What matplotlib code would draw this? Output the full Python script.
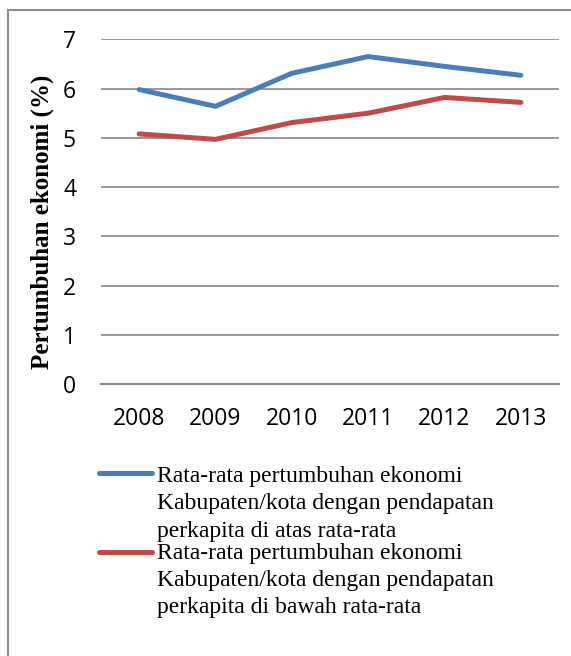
import matplotlib
matplotlib.use("Agg")
import matplotlib.pyplot as plt
from matplotlib.patches import Rectangle
from matplotlib.lines import Line2D

years = ["2008", "2009", "2010", "2011", "2012", "2013"]
above_avg = [5.98, 5.64, 6.31, 6.65, 6.45, 6.27]
below_avg = [5.08, 4.97, 5.31, 5.50, 5.82, 5.72]
yticks = [0, 1, 2, 3, 4, 5, 6, 7]
label_above = ["Rata-rata pertumbuhan ekonomi",
               "Kabupaten/kota dengan pendapatan",
               "perkapita di atas rata-rata"]
label_below = ["Rata-rata pertumbuhan ekonomi",
               "Kabupaten/kota dengan pendapatan",
               "perkapita di bawah rata-rata"]
ylabel = "Pertumbuhan ekonomi (%)"

W, H = 571, 656
fig = plt.figure(figsize=(W / 100, H / 100), dpi=100)

def fx(px):
    return px / W

def fy(py):
    return 1 - py / H

# outer border (extends beyond right/bottom of image)
fig.patches.append(Rectangle((fx(8), -0.1), 1.2, fy(10) + 0.1, transform=fig.transFigure,
                             fill=False, edgecolor="#8c8c8c", linewidth=1.5))

ax = fig.add_axes([fx(101), fy(384.3), (559 - 101) / W, (384.3 - 39.3) / H])
x = list(range(len(years)))
l1, = ax.plot(x, above_avg, color="#4a7ebb", linewidth=3.6, solid_capstyle="round", solid_joinstyle="round")
l2, = ax.plot(x, below_avg, color="#be4b48", linewidth=3.6, solid_capstyle="round", solid_joinstyle="round")
ax.set_xlim(-0.5, len(years) - 0.5)
ax.set_ylim(0, 7)
ax.set_yticks(yticks)
ax.set_xticks(x)
ax.set_xticklabels(years)
for s in ["top", "right", "left"]:
    ax.spines[s].set_visible(False)
ax.spines["bottom"].set_color("#878787")
ax.spines["bottom"].set_linewidth(1.5)
ax.grid(axis="y", color="#878787", linewidth=1.2)
ax.set_axisbelow(True)
ax.tick_params(length=0, labelsize=16.5, colors="black")
ax.tick_params(axis="y", pad=18)
ax.tick_params(axis="x", pad=16)
for t in ax.get_xticklabels() + ax.get_yticklabels():
    t.set_fontfamily("Open Sans")

fig.text(fx(42), fy(222), ylabel, rotation=90, ha="center", va="center",
         fontsize=18, fontweight="bold", family="Liberation Serif")

# legend (handle aligned with first text line, as in the reference)
entries = [(l1, label_above, 473, [482, 509.5, 536.5]),
           (l2, label_below, 552, [558.5, 586, 613])]
for handle, lines, hy, baselines in entries:
    fig.add_artist(Line2D([fx(99), fx(152)], [fy(hy), fy(hy)], transform=fig.transFigure,
                          color=handle.get_color(), linewidth=3.6, solid_capstyle="round"))
    for txt, by in zip(lines, baselines):
        fig.text(fx(157), fy(by), txt, ha="left", va="baseline",
                 fontsize=17, family="Liberation Serif", color="black")

fig.savefig("out.png", dpi=100)
